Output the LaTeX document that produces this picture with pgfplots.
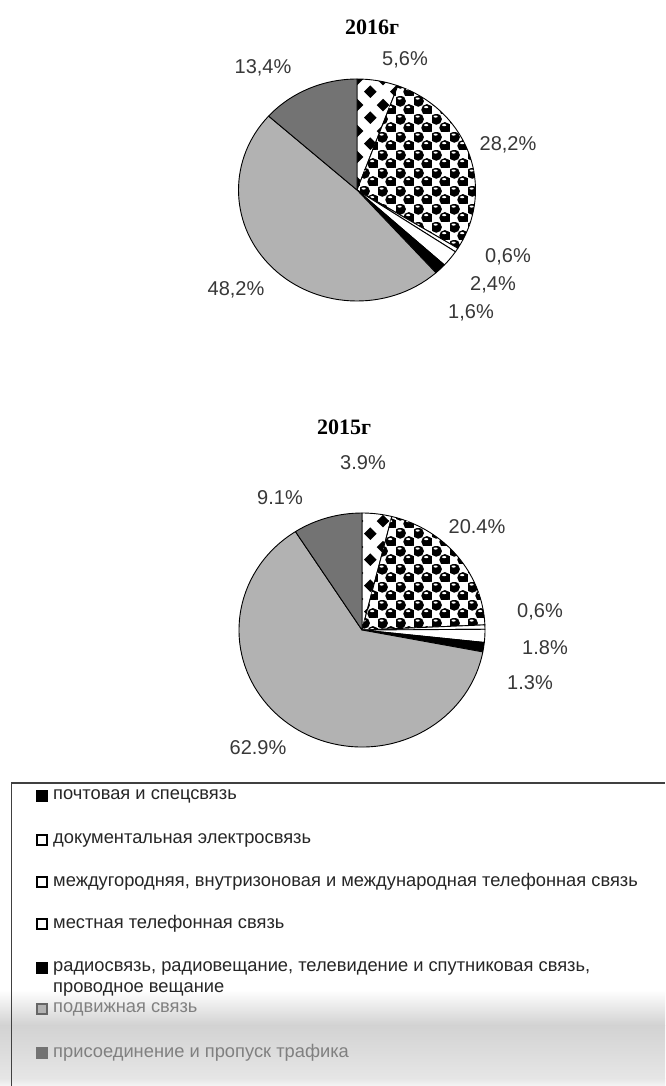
\documentclass[border=0pt]{standalone}
\usepackage{pgfplots}
\pgfplotsset{compat=1.18}
\usepackage{fontspec}
\setmainfont{Liberation Sans}
\newfontfamily\titlefont{Liberation Serif}
\usetikzlibrary{patterns}

\pgfdeclarepatternformonly{diamonds}{\pgfpointorigin}{\pgfpoint{26pt}{26pt}}{\pgfpoint{26pt}{26pt}}{%
  \pgfpathmoveto{\pgfpoint{6.5pt}{0pt}}\pgfpathlineto{\pgfpoint{13pt}{6.5pt}}%
  \pgfpathlineto{\pgfpoint{6.5pt}{13pt}}\pgfpathlineto{\pgfpoint{0pt}{6.5pt}}\pgfpathclose
  \pgfpathmoveto{\pgfpoint{19.5pt}{13pt}}\pgfpathlineto{\pgfpoint{26pt}{19.5pt}}%
  \pgfpathlineto{\pgfpoint{19.5pt}{26pt}}\pgfpathlineto{\pgfpoint{13pt}{19.5pt}}\pgfpathclose
  \pgfusepath{fill}}

\pgfdeclarepatterninherentlycolored{balls}{\pgfpointorigin}{\pgfpoint{18pt}{18pt}}{\pgfpoint{18pt}{18pt}}{%
  \pgfsetfillcolor{black}%
  \pgfpathcircle{\pgfpoint{4.5pt}{13.5pt}}{5.9pt}%
  \pgfpathcircle{\pgfpoint{13.5pt}{4.5pt}}{5.9pt}%
  \pgfpathcircle{\pgfpoint{-4.5pt}{-4.5pt}}{5.9pt}%
  \pgfpathcircle{\pgfpoint{22.5pt}{22.5pt}}{5.9pt}%
  \pgfpathcircle{\pgfpoint{22.5pt}{-4.5pt}}{5.9pt}%
  \pgfpathcircle{\pgfpoint{-4.5pt}{22.5pt}}{5.9pt}%
  \pgfusepath{fill}%
  \pgfsetfillcolor{white}%
  \pgfpathellipse{\pgfpoint{3.8pt}{16.2pt}}{\pgfpoint{2.2pt}{0pt}}{\pgfpoint{0pt}{1.1pt}}%
  \pgfpathellipse{\pgfpoint{12.8pt}{7.2pt}}{\pgfpoint{2.2pt}{0pt}}{\pgfpoint{0pt}{1.1pt}}%
  \pgfusepath{fill}}

\definecolor{mobgray}{gray}{0.70}
\definecolor{trgray}{gray}{0.45}
\definecolor{lbl}{gray}{0.22}

\tikzset{
  s1/.style={fill=white, postaction={pattern=diamonds}},
  s2/.style={fill=white, postaction={pattern=balls}},
  s3/.style={fill=white},
  s4/.style={fill=white},
  s5/.style={fill=black},
  s6/.style={fill=mobgray},
  s7/.style={fill=trgray},
  pct/.style={font=\fontsize{20}{23}\selectfont, text=lbl, inner sep=0pt},
  ttl/.style={font=\titlefont\bfseries\fontsize{22}{25}\selectfont, inner sep=0pt},
  leg/.style={font=\fontsize{18.3}{21}\selectfont, text=black!85, anchor=west, inner sep=0pt},
}

% draws a pie: #1 x radius, #2 y radius, #3 list value/style
\newcommand\drawpie[3]{%
  \pgfplotsextra{%
    \gdef\cum{90}%
    \foreach \v/\sty in {#3} {%
      \pgfmathsetmacro\s{\cum}%
      \pgfmathsetmacro\e{\cum-3.6*\v}%
      \filldraw[\sty, draw=black, line width=0.9pt, line join=round]
        (axis cs:0,0) -- (axis cs:{cos(\s)},{sin(\s)})
        arc[start angle=\s, end angle=\e, x radius=#1, y radius=#2] -- cycle;
      \xdef\cum{\e}%
    }%
  }%
}

\begin{document}
\begin{tikzpicture}
\useasboundingbox (0pt,0pt) rectangle (665pt,-1086pt);
\fill[white] (0pt,0pt) rectangle (665pt,-1086pt);

% ---------- 2016 ----------
\begin{axis}[at={(357pt,-190pt)}, anchor=center, scale only axis,
  width=237pt, height=222pt, xmin=-1, xmax=1, ymin=-1, ymax=1,
  hide axis, clip=false]
\drawpie{118.5pt}{111pt}{5.6/s1, 28.2/s2, 0.6/s3, 2.4/s4, 1.6/s5, 48.2/s6, 13.4/s7}
\end{axis}

% ---------- 2015 ----------
\begin{axis}[at={(362pt,-630pt)}, anchor=center, scale only axis,
  width=246pt, height=234pt, xmin=-1, xmax=1, ymin=-1, ymax=1,
  hide axis, clip=false]
\drawpie{123pt}{117pt}{3.9/s1, 20.4/s2, 0.6/s3, 1.8/s4, 1.3/s5, 62.9/s6, 9.1/s7}
\end{axis}

% titles
\node[ttl] at (372pt,-27pt) {2016г};
\node[ttl] at (344pt,-427pt) {2015г};

% labels 2016
\node[pct] at (405pt,-60pt) {5,6\%};
\node[pct] at (508pt,-145pt) {28,2\%};
\node[pct] at (508pt,-257pt) {0,6\%};
\node[pct] at (493pt,-285pt) {2,4\%};
\node[pct] at (471pt,-313pt) {1,6\%};
\node[pct] at (236pt,-290pt) {48,2\%};
\node[pct] at (263pt,-68pt) {13,4\%};

% labels 2015
\node[pct] at (363pt,-463pt) {3.9\%};
\node[pct] at (280pt,-498pt) {9.1\%};
\node[pct] at (477pt,-527pt) {20.4\%};
\node[pct] at (540pt,-612pt) {0,6\%};
\node[pct] at (545pt,-648pt) {1.8\%};
\node[pct] at (530pt,-683pt) {1.3\%};
\node[pct] at (258pt,-748pt) {62.9\%};

% legend
\shade[top color=white, bottom color=gray!35] (0pt,-990pt) rectangle (665pt,-1025pt);
\shade[top color=gray!35, bottom color=gray!20] (0pt,-1025pt) rectangle (665pt,-1078pt);
\shade[top color=gray!20, bottom color=gray!8] (0pt,-1078pt) rectangle (665pt,-1086pt);
\draw[black!75, line width=1.6pt] (665pt,-783pt) -- (11.5pt,-783pt) -- (11.5pt,-1086pt);

\fill[black] (36pt,-790pt) rectangle (48pt,-802pt);
\node[leg] at (53pt,-796pt) {почтовая и спецсвязь};
\filldraw[fill=white, draw=black, line width=2.2pt] (37pt,-835pt) rectangle (47pt,-845pt);
\node[leg] at (53pt,-840pt) {документальная электросвязь};
\filldraw[fill=white, draw=black, line width=1.6pt] (37pt,-877pt) rectangle (47pt,-887pt);
\node[leg] at (53pt,-882pt) {междугородняя, внутризоновая и международная телефонная связь};
\filldraw[fill=white, draw=black, line width=1.6pt] (37pt,-919pt) rectangle (47pt,-929pt);
\node[leg] at (53pt,-924pt) {местная телефонная связь};
\fill[black] (36pt,-962pt) rectangle (48pt,-974pt);
\node[leg] at (53pt,-968pt) {радиосвязь, радиовещание, телевидение и спутниковая связь,};
\node[leg] at (53pt,-989pt) {проводное вещание};
\filldraw[fill=mobgray, draw=black!60, line width=1.4pt] (37pt,-1004pt) rectangle (47pt,-1014pt);
\node[leg, text=black!50] at (53pt,-1009pt) {подвижная связь};
\filldraw[fill=trgray, draw=black!55, line width=1.2pt] (37pt,-1048pt) rectangle (47pt,-1058pt);
\node[leg, text=black!50] at (53pt,-1053pt) {присоединение и пропуск трафика};
\end{tikzpicture}
\end{document}
